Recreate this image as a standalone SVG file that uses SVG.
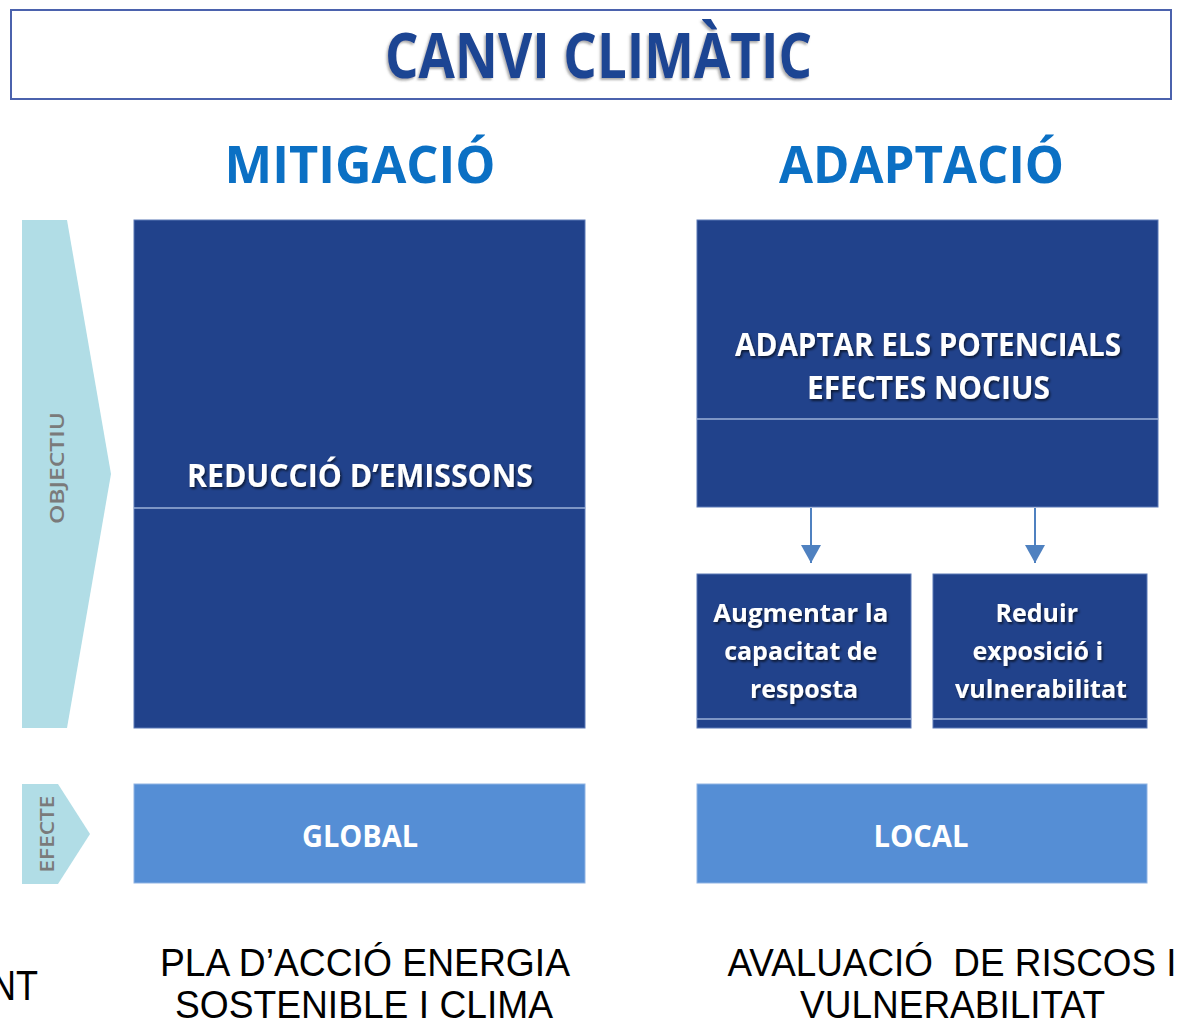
<svg xmlns="http://www.w3.org/2000/svg" width="1182" height="1023" viewBox="0 0 1182 1023">
<style>
.dark{fill:#21428b;stroke:#5b78b6;stroke-width:1}
.light{fill:#558ed5;stroke:#8fb3e3;stroke-width:1}
.chev{fill:#b1dde6}
.sep{stroke:#9db2d9;stroke-width:1.5}
.wb{font-family:"Open Sans","Lato",sans-serif;font-weight:700;fill:#ffffff;text-anchor:middle}
.head{font-family:"Open Sans","Lato",sans-serif;font-weight:700;fill:#0b70c4;text-anchor:middle}
.side{font-family:"Open Sans","Lato",sans-serif;font-weight:600;fill:#7a7a7a;text-anchor:middle}
.bot{font-family:"Liberation Sans",Arial,sans-serif;font-size:38px;fill:#000;text-anchor:middle;white-space:pre}
.conn{stroke:#4f81c0;stroke-width:2;fill:none}
</style>
<defs>
<filter id="sh" x="-10%" y="-30%" width="120%" height="160%">
<feDropShadow dx="1.5" dy="2" stdDeviation="1.2" flood-color="#000" flood-opacity="0.6"/>
</filter>
<filter id="tsh" x="-10%" y="-30%" width="120%" height="160%">
<feDropShadow dx="-1.5" dy="2" stdDeviation="1.2" flood-color="#555" flood-opacity="0.5"/>
</filter>
<marker id="ah" viewBox="0 0 10 10" refX="10" refY="5" markerWidth="18" markerHeight="20" markerUnits="userSpaceOnUse" orient="auto" preserveAspectRatio="none">
<path d="M0,0 L10,5 L0,10 z" fill="#4f81c0"/>
</marker>
</defs>
<rect width="1182" height="1023" fill="#ffffff"/>

<g id="title">
<rect x="11" y="10" width="1160" height="89" fill="#ffffff" stroke="#4b62ad" stroke-width="2"/>
<text x="598.5" y="78" class="head" style="fill:#1f4593;font-size:62px" textLength="427" lengthAdjust="spacingAndGlyphs" filter="url(#tsh)">CANVI CLIMÀTIC</text>
</g>

<g id="heading-mitigacio">
<text x="360" y="183" class="head" style="font-size:52px" textLength="271" lengthAdjust="spacingAndGlyphs">MITIGACIÓ</text>
</g>
<g id="heading-adaptacio">
<text x="921.5" y="183" class="head" style="font-size:52px" textLength="285" lengthAdjust="spacingAndGlyphs">ADAPTACIÓ</text>
</g>

<g id="objectiu">
<polygon class="chev" points="22,220 67,220 111,474 67,728 22,728"/>
<text class="side" style="font-size:20px" transform="translate(64,468) rotate(-90)" textLength="112" lengthAdjust="spacingAndGlyphs">OBJECTIU</text>
</g>

<g id="efecte">
<polygon class="chev" points="22,784 58,784 90,834 58,884 22,884"/>
<text class="side" style="font-size:19px" transform="translate(54,834) rotate(-90)" textLength="77" lengthAdjust="spacingAndGlyphs">EFECTE</text>
</g>

<g id="reduccio">
<rect class="dark" x="134" y="220" width="451" height="508"/>
<line class="sep" x1="134" y1="508" x2="585" y2="508"/>
<text x="360" y="487" class="wb" style="font-size:33px" textLength="346" lengthAdjust="spacingAndGlyphs" filter="url(#sh)">REDUCCIÓ D’EMISSONS</text>
</g>

<g id="adaptar">
<rect class="dark" x="697" y="220" width="461" height="287"/>
<line class="sep" x1="697" y1="419" x2="1158" y2="419"/>
<text x="928" y="356" class="wb" style="font-size:33px" textLength="386" lengthAdjust="spacingAndGlyphs" filter="url(#sh)">ADAPTAR ELS POTENCIALS</text>
<text x="928.5" y="399" class="wb" style="font-size:33px" textLength="243" lengthAdjust="spacingAndGlyphs" filter="url(#sh)">EFECTES NOCIUS</text>
</g>

<g id="augmentar">
<rect class="dark" x="697" y="574" width="214" height="154"/>
<line class="sep" x1="697" y1="719" x2="911" y2="719"/>
<text class="wb" style="font-size:25px" filter="url(#sh)">
<tspan x="804" y="622" textLength="175" lengthAdjust="spacingAndGlyphs">Augmentar la</tspan>
<tspan x="804" y="660">capacitat de</tspan>
<tspan x="804" y="698">resposta</tspan>
</text>
</g>

<g id="reduir">
<rect class="dark" x="933" y="574" width="214" height="154"/>
<line class="sep" x1="933" y1="719" x2="1147" y2="719"/>
<text class="wb" style="font-size:25px" filter="url(#sh)">
<tspan x="1040" y="622">Reduir</tspan>
<tspan x="1041" y="660">exposició i</tspan>
<tspan x="1041" y="698" textLength="172" lengthAdjust="spacingAndGlyphs">vulnerabilitat</tspan>
</text>
</g>

<g id="global">
<rect class="light" x="134" y="784" width="451" height="99"/>
<text x="360" y="847" class="wb" style="font-size:30px" textLength="116" lengthAdjust="spacingAndGlyphs">GLOBAL</text>
</g>

<g id="local">
<rect class="light" x="697" y="784" width="450" height="99"/>
<text x="921" y="847" class="wb" style="font-size:30px" textLength="95" lengthAdjust="spacingAndGlyphs">LOCAL</text>
</g>

<g id="connectors">
<line class="conn" x1="811" y1="508" x2="811" y2="563" marker-end="url(#ah)"/>
<line class="conn" x1="1035" y1="508" x2="1035" y2="563" marker-end="url(#ah)"/>
</g>

<g id="bottom-texts">
<text class="bot" x="-10" y="1000" style="font-size:42px;text-anchor:start" textLength="48" lengthAdjust="spacingAndGlyphs">NT</text>
<text class="bot" x="365" y="976" textLength="410" lengthAdjust="spacingAndGlyphs">PLA D’ACCIÓ ENERGIA</text>
<text class="bot" x="364" y="1018" textLength="378" lengthAdjust="spacingAndGlyphs">SOSTENIBLE I CLIMA</text>
<text class="bot" x="952" y="976" textLength="449" lengthAdjust="spacingAndGlyphs">AVALUACIÓ  DE RISCOS I</text>
<text class="bot" x="952.5" y="1018" textLength="305" lengthAdjust="spacingAndGlyphs">VULNERABILITAT</text>
</g>
</svg>
